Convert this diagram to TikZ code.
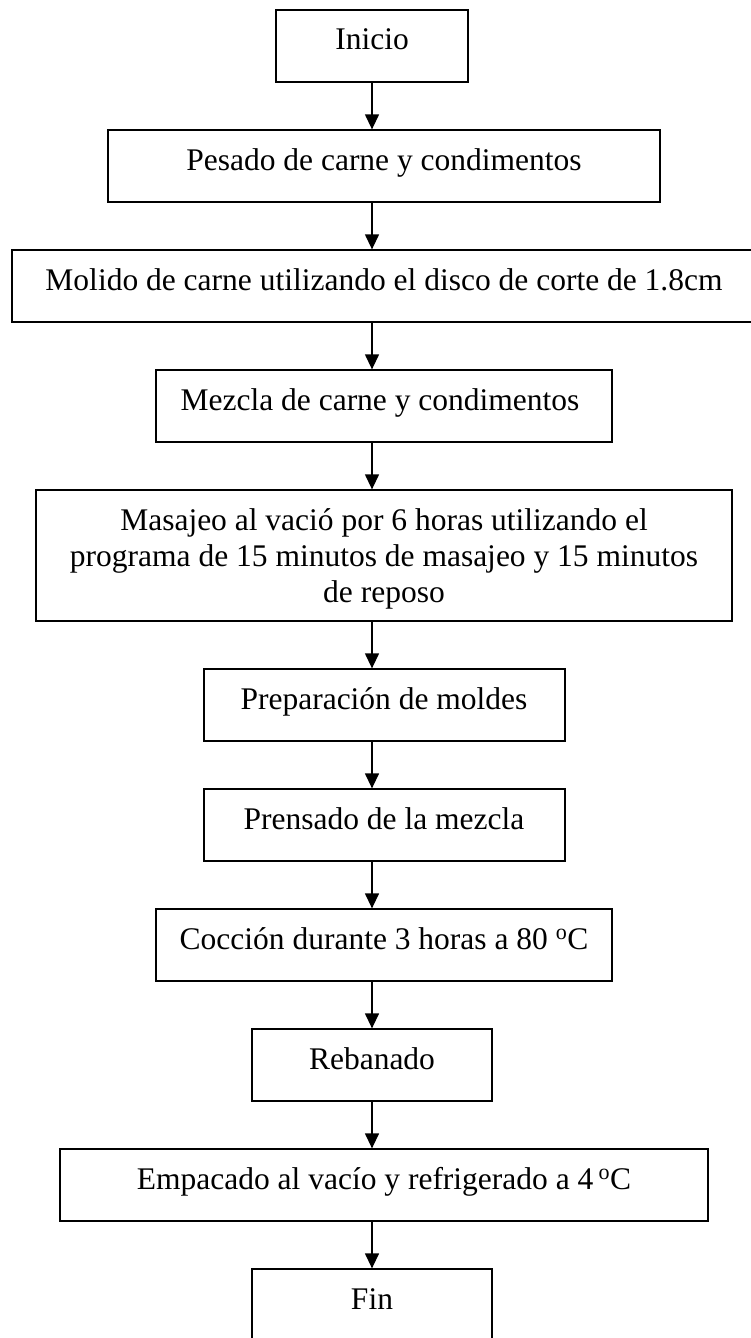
\documentclass[tikz,border=0pt]{standalone}
\usepackage{fontspec}
\setmainfont{Liberation Serif}
\usetikzlibrary{arrows.meta}
\begin{document}
\begin{tikzpicture}[x=1pt,y=-1pt,
  stepbox/.style={draw, line width=1.3pt, rectangle, inner sep=0pt, minimum height=72pt},
  lbl/.style={anchor=base, inner sep=0pt, font=\fontsize{31.5}{36}\selectfont},
  arr/.style={line width=1.3pt, -{Triangle[length=15pt,width=14pt]}}]
\useasboundingbox (0,0) rectangle (750,1338);
\fill[white] (0,0) rectangle (750,1338);
\coordinate (ax) at (372,0);
% boxes
\node[stepbox, minimum width=192pt] (s1) at (372,46) {};
\node[stepbox, minimum width=552pt] (s2) at (384,166) {};
\node[stepbox, minimum width=748pt] (s3) at (386,286) {};
\node[stepbox, minimum width=456pt] (s4) at (384,406) {};
\node[stepbox, minimum width=696pt, minimum height=131pt] (s5) at (384,555.5) {};
\node[stepbox, minimum width=361pt] (s6) at (384.5,705) {};
\node[stepbox, minimum width=361pt] (s7) at (384.5,825) {};
\node[stepbox, minimum width=456pt] (s8) at (384,945) {};
\node[stepbox, minimum width=240pt] (s9) at (372,1065) {};
\node[stepbox, minimum width=648pt] (s10) at (384,1185) {};
\node[stepbox, minimum width=240pt] (s11) at (372,1305) {};
% texts
\node[lbl] (t1) at (372,50) {Inicio};
\node[lbl] (t2) at (384,170) {Pesado de carne y condimentos};
\node[lbl] (t3) at (384,290) {Molido de carne utilizando el disco de corte de 1.8cm};
\node[lbl] (t4) at (380,410) {Mezcla de carne y condimentos};
\node[lbl] (t5) at (384,530) {\begin{tabular}[t]{@{}c@{}}Masajeo al vació por 6 horas utilizando el\\ programa de 15 minutos de masajeo y 15 minutos\\ de reposo\end{tabular}};
\node[lbl] (t6) at (384,709) {Preparación de moldes};
\node[lbl] (t7) at (384,829) {Prensado de la mezcla};
\node[lbl] (t8) at (384,949) {Cocción durante 3 horas a 80 \textsuperscript{o}C};
\node[lbl] (t9) at (372,1069) {Rebanado};
\node[lbl] (t10) at (384,1189) {Empacado al vacío y refrigerado a 4\,\textsuperscript{o}C};
\node[lbl] (t11) at (372,1309) {Fin};
% connectors
\draw[arr] (ax |- s1.south) -- (ax |- s2.north);
\draw[arr] (ax |- s2.south) -- (ax |- s3.north);
\draw[arr] (ax |- s3.south) -- (ax |- s4.north);
\draw[arr] (ax |- s4.south) -- (ax |- s5.north);
\draw[arr] (ax |- s5.south) -- (ax |- s6.north);
\draw[arr] (ax |- s6.south) -- (ax |- s7.north);
\draw[arr] (ax |- s7.south) -- (ax |- s8.north);
\draw[arr] (ax |- s8.south) -- (ax |- s9.north);
\draw[arr] (ax |- s9.south) -- (ax |- s10.north);
\draw[arr] (ax |- s10.south) -- (ax |- s11.north);
\end{tikzpicture}
\end{document}
